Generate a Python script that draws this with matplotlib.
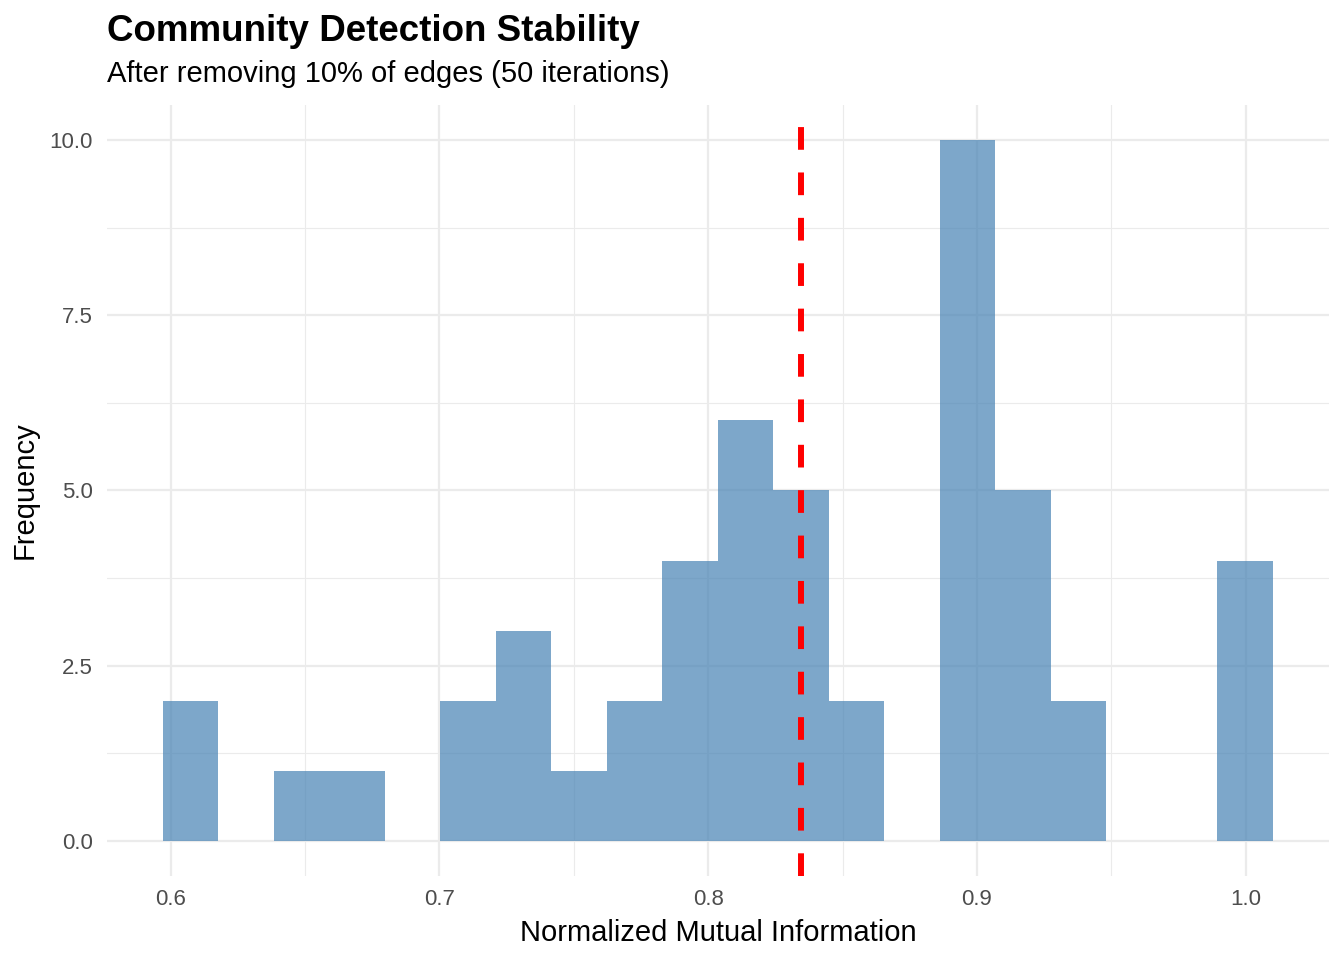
import matplotlib
matplotlib.use("Agg")
import matplotlib.pyplot as plt
from matplotlib.ticker import MultipleLocator, FormatStrFormatter

plt.rcParams['font.family'] = ['Liberation Sans', 'DejaVu Sans']

# histogram bins (20 bins)
bin_start = 0.5970
bin_width = 0.02065
counts = [2, 0, 1, 1, 0, 2, 3, 1, 2, 4, 6, 5, 2, 0, 10, 5, 2, 0, 0, 4]
mean_nmi = 0.8344

x_ticks = [0.6, 0.7, 0.8, 0.9, 1.0]
y_ticks = [0.0, 2.5, 5.0, 7.5, 10.0]

W, H = 1344, 960
fig = plt.figure(figsize=(W / 100, H / 100), dpi=100)
ax = fig.add_axes([107 / W, 1 - 876 / H, (1329 - 107) / W, (876 - 105) / H])

lefts = [bin_start + i * bin_width for i in range(len(counts))]
ax.bar(lefts, counts, width=bin_width, align='edge', color='#4682B4',
       alpha=0.7, linewidth=0, zorder=2)

# mean line
ax.axvline(mean_nmi, color='red', linewidth=4.3, linestyle=(0, (3.8, 3.8)),
           dash_capstyle='butt', zorder=3)

ax.set_xlim(0.5763, 1.0310)
ax.set_ylim(-0.5, 10.5)
ax.set_xticks(x_ticks)
ax.set_yticks(y_ticks)
ax.xaxis.set_minor_locator(MultipleLocator(0.05))
ax.yaxis.set_minor_locator(MultipleLocator(1.25))
ax.yaxis.set_major_formatter(FormatStrFormatter('%.1f'))
ax.xaxis.set_major_formatter(FormatStrFormatter('%.1f'))

ax.grid(which='major', color='#EBEBEB', linewidth=1.6, zorder=0)
ax.grid(which='minor', color='#EBEBEB', linewidth=0.8, zorder=0)
ax.set_axisbelow(True)
for s in ax.spines.values():
    s.set_visible(False)
ax.tick_params(which='both', length=0, labelsize=16, labelcolor='#4D4D4D')
ax.tick_params(axis='x', pad=9.5)
ax.tick_params(axis='y', pad=10)

ax.set_xlabel('Normalized Mutual Information', fontsize=21, labelpad=6)
ax.set_ylabel('Frequency', fontsize=21, labelpad=8)

fig.text(107 / W, 1 - 41 / H, 'Community Detection Stability', fontsize=26.5,
         fontweight='bold', ha='left', va='baseline')
fig.text(107 / W, 1 - 82 / H, 'After removing 10% of edges (50 iterations)',
         fontsize=21, ha='left', va='baseline')

fig.savefig('out.png', dpi=100)
